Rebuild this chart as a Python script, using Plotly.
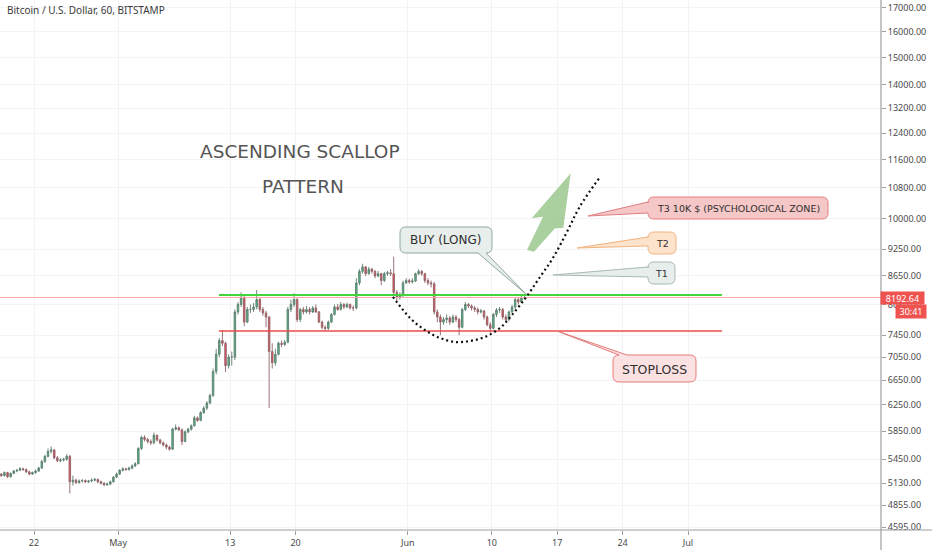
import plotly.graph_objects as go
import pandas as pd

W, H = 932, 550
MR, MB = 51, 20
PW, PH = W - MR, H - MB  # plot area 881 x 530

# ---------------- data (8-hour candles) ----------------
candle_start = "2019-04-18 04:00"
first_open = 5240
closes = [
    5250, 5230, 5270,  5215, 5260, 5290,  5300, 5320, 5310,  5280, 5250, 5270,
    5290, 5330, 5420,  5490, 5560, 5580,  5470, 5430, 5440,  5450, 5490, 5150,
    5170, 5140, 5160,  5165, 5150, 5160,  5170, 5180, 5150,  5130, 5110, 5120,
    5150, 5210, 5250,  5300, 5320, 5310,  5330, 5360, 5390,  5600, 5760, 5730,
    5700, 5680, 5790,  5720, 5680, 5650,  5620, 5590, 5880,  5900, 5870, 5700,
    5840, 5880, 5930,  6050, 6010, 6130,  6200, 6280, 6400,  6800, 7100, 7350,
    7300, 6900, 7050,  7050, 7900, 8050,  8200, 7700, 7950,  7950, 8000, 8150,
    7950, 7880, 7800,  7150, 6950, 7100,  7300, 7280, 7320,  7950, 8050, 8150,
    7750, 7950, 7900,  7950, 7900, 7980,  7900, 7700, 7600,  7580, 7700, 7850,
    8000, 7950, 8050,  8000, 8050, 7980,  7980, 8500, 8750,  8850, 8700, 8800,
    8750, 8650, 8700,  8550, 8700, 8720,  8700, 8300, 8200,  8250, 8500, 8550,
    8520, 8540, 8700,  8750, 8700, 8550,  8500, 8480, 7900,  7800, 7700, 7750,
    7780, 7700, 7800,  7750, 7600, 7950,  8050, 8020, 7980,  7950, 7900, 7920,
    7800, 7650, 7580,  7850, 7940, 7950,  7800, 7750, 7900,  8000, 8150, 8100,
    8180, 8192.64,
]
highs = [
    5270, 5265, 5285,  5280, 5270, 5305,  5320, 5345, 5335,  5325, 5295, 5285,
    5310, 5350, 5440,  5510, 5600, 5630,  5590, 5495, 5465,  5470, 5520, 5510,
    5230, 5190, 5180,  5185, 5180, 5175,  5195, 5200, 5190,  5165, 5145, 5140,
    5165, 5225, 5270,  5315, 5340, 5335,  5350, 5380, 5410,  5620, 5780, 5790,
    5750, 5730, 5830,  5800, 5740, 5700,  5670, 5640, 5900,  5950, 5920, 5890,
    5860, 5900, 5950,  6080, 6070, 6150,  6230, 6310, 6430,  6850, 7200, 7400,
    7550, 7330, 7100,  7150, 7950, 8100,  8300, 8220, 8000,  8050, 8080, 8350,
    8200, 8000, 7920,  7820, 7300, 7200,  7330, 7350, 7360,  8000, 8150, 8280,
    8180, 7980, 8000,  8020, 8000, 8020,  8050, 7920, 7730,  7640, 7730, 7880,
    8050, 8060, 8100,  8080, 8090, 8070,  8030, 8600, 8800,  8920, 8870, 8850,
    8830, 8780, 8760,  8720, 8740, 8760,  8800, 9080, 8350,  8300, 8550, 8600,
    8590, 8600, 8720,  8800, 8780, 8720,  8600, 8550, 8520,  7950, 7850, 7800,
    7850, 7820, 7850,  7840, 7780, 7980,  8100, 8080, 8050,  8020, 7990, 7960,
    7940, 7830, 7700,  7880, 7980, 8000,  7980, 7850, 7930,  8040, 8180, 8200,
    8240, 8250,
]
lows = [
    5225, 5215, 5220,  5200, 5205, 5250,  5275, 5290, 5295,  5265, 5235, 5240,
    5255, 5280, 5320,  5400, 5475, 5530,  5450, 5410, 5410,  5420, 5430, 5000,
    5100, 5120, 5125,  5140, 5135, 5135,  5145, 5155, 5130,  5115, 5095, 5100,
    5105, 5140, 5200,  5240, 5285, 5295,  5300, 5315, 5345,  5380, 5580, 5700,
    5670, 5650, 5660,  5700, 5660, 5630,  5590, 5570, 5580,  5860, 5850, 5650,
    5690, 5820, 5860,  5920, 5990, 6000,  6110, 6170, 6260,  6380, 6750, 7050,
    7250, 6790, 6850,  6900, 7000, 7850,  8000, 7620, 7680,  7880, 7900, 7950,
    7900, 7820, 7600,  6200, 6850, 6900,  7080, 7230, 7250,  7300, 7900, 8000,
    7700, 7700, 7850,  7870, 7850, 7880,  7880, 7680, 7560,  7530, 7550, 7680,
    7830, 7920, 7930,  7960, 7980, 7950,  7920, 7950, 8450,  8700, 8650, 8680,
    8700, 8600, 8620,  8450, 8520, 8650,  8650, 8250, 8100,  8150, 8200, 8480,
    8480, 8490, 8520,  8670, 8650, 8500,  8450, 8400, 7850,  7700, 7450, 7650,
    7680, 7650, 7680,  7700, 7450, 7580,  7920, 7980, 7930,  7900, 7850, 7870,
    7750, 7620, 7500,  7560, 7800, 7880,  7750, 7700, 7720,  7880, 7960, 8050,
    8080, 8150,
]
opens = [first_open] + closes[:-1]
times = pd.date_range(candle_start, periods=len(closes), freq="8h")

last_price = 8192.64
countdown = "30:41"

support_level = 8246
stop_level = 7531
level_start, level_end = "2019-05-11 19:00", "2019-07-04 15:00"

scallop_dates = ["2019-05-30 10:00", "2019-06-01 06:00", "2019-06-02 20:00",
                 "2019-06-04 11:00", "2019-06-06 01:30", "2019-06-07 16:00",
                 "2019-06-09 06:30", "2019-06-10 21:00", "2019-06-12 04:00",
                 "2019-06-13 18:30", "2019-06-15 04:00", "2019-06-16 13:00",
                 "2019-06-18 01:00", "2019-06-19 10:30", "2019-06-21 14:00"]
scallop_prices = [8205, 7781, 7549, 7398, 7324, 7343, 7418, 7587, 7841,
                  8225, 8630, 9051, 9664, 10309, 11100]

y_ticks = [4595, 4855, 5130, 5450, 5850, 6250, 6650, 7050, 7450, 8050, 8650,
           9250, 10000, 10800, 11600, 12400, 13200, 14000, 15000, 16000, 17000]
x_tick_dates = ["2019-04-22", "2019-05-01", "2019-05-13", "2019-05-20",
                "2019-06-01", "2019-06-10", "2019-06-17", "2019-06-24", "2019-07-01"]
x_tick_text = ["22", "May", "13", "20", "Jun", "10", "17", "24", "Jul"]

x_range = ["2019-04-18 08:40", "2019-07-21 15:45"]
y_range = [3.6590, 4.2390]

# ---------------- helpers (pixel -> paper) ----------------
def P(x, y):
    return f"{x / PW:.5f},{1 - y / PH:.5f}"

def callout_path(x0, y0, x1, y1, r, side, a, b, tip):
    s = f"M{P(x0 + r, y0)}"
    if side == "top":
        s += f" L{P(a, y0)} L{P(*tip)} L{P(b, y0)}"
    s += f" L{P(x1 - r, y0)} Q{P(x1, y0)} {P(x1, y0 + r)}"
    s += f" L{P(x1, y1 - r)} Q{P(x1, y1)} {P(x1 - r, y1)}"
    if side == "bottom":
        s += f" L{P(b, y1)} L{P(*tip)} L{P(a, y1)}"
    s += f" L{P(x0 + r, y1)} Q{P(x0, y1)} {P(x0, y1 - r)}"
    if side == "left":
        s += f" L{P(x0, b)} L{P(*tip)} L{P(x0, a)}"
    s += f" L{P(x0, y0 + r)} Q{P(x0, y0)} {P(x0 + r, y0)} Z"
    return s

fig = go.Figure()

fig.add_trace(go.Candlestick(
    x=times, open=opens, high=highs, low=lows, close=closes,
    increasing=dict(line=dict(color="#5e7d6e", width=0.9), fillcolor="#53b987"),
    decreasing=dict(line=dict(color="#8f6468", width=0.9), fillcolor="#eb4d5c"),
    showlegend=False, hoverinfo="skip",
))

# last price line
fig.add_trace(go.Scatter(x=x_range, y=[last_price, last_price], mode="lines",
                         line=dict(color="#f7a9a4", width=1), showlegend=False, hoverinfo="skip"))
# support / stop lines
fig.add_trace(go.Scatter(x=[level_start, level_end], y=[support_level, support_level], mode="lines",
                         line=dict(color="#45d33b", width=2), showlegend=False, hoverinfo="skip"))
fig.add_trace(go.Scatter(x=[level_start, level_end], y=[stop_level, stop_level], mode="lines",
                         line=dict(color="#ee4a4a", width=1.5), showlegend=False, hoverinfo="skip"))
# scallop curve
fig.add_trace(go.Scatter(x=scallop_dates, y=scallop_prices, mode="lines",
                         line=dict(color="#111111", width=2.2, dash="2px,3px", shape="spline"),
                         showlegend=False, hoverinfo="skip"))

shapes = []
# arrow
arrow = [(570.7, 173.3), (563.3, 228), (555, 228.3), (534, 251.7), (527, 250),
         (543, 216.7), (531.7, 218.3)]
path = "M" + " L".join(P(x, y) for x, y in arrow) + " Z"
shapes.append(dict(type="path", xref="paper", yref="paper", path=path,
                   fillcolor="rgba(150,196,135,0.8)", line=dict(width=0), layer="above"))

callouts = [
    # box, radius, side, a, b, tip, fill, border
    ((400, 227, 492, 253), 6, "bottom", 478, 486, (527, 295), "#e8eeeb", "#8ea99b"),
    ((648, 197, 828, 219), 6, "left", 202, 213, (588, 216), "#f5c7c7", "#e07f7f"),
    ((648, 232, 676, 254), 6, "left", 237, 246, (577, 248), "#fde3cc", "#f1b37f"),
    ((648, 262, 675, 284), 6, "left", 267, 277, (553, 275), "#e8eeec", "#a9bab2"),
    ((613, 355, 696, 382), 6, "top", 619, 627, (557, 331), "#fbe1e1", "#e47c7c"),
]
for (x0, y0, x1, y1), r, side, a, b, tip, fill, border in callouts:
    shapes.append(dict(type="path", xref="paper", yref="paper",
                       path=callout_path(x0, y0, x1, y1, r, side, a, b, tip),
                       fillcolor=fill, line=dict(color=border, width=1), layer="above"))

# axis lines
shapes.append(dict(type="line", xref="paper", yref="paper", x0=0, x1=W / PW, y0=0, y1=0,
                   line=dict(color="#9e9e9e", width=1.2), layer="above"))
shapes.append(dict(type="line", xref="paper", yref="paper", x0=1, x1=1, y0=1, y1=-MB / PH,
                   line=dict(color="#9e9e9e", width=1.2), layer="above"))

def A(text, x, y, size, color="#333333", family="DejaVu Sans", xanchor="center", **kw):
    return dict(text=text, xref="paper", yref="paper", x=x / PW, y=1 - y / PH,
                xanchor=xanchor, yanchor="middle", showarrow=False,
                font=dict(family=family, size=size, color=color), **kw)

annotations = [
    A("Bitcoin / U.S. Dollar, 60, BITSTAMP", 5, 10, 10, "#3a3a3a", "Noto Sans", "left"),
    A("ASCENDING SCALLOP", 300, 152, 18.5, "#555555"),
    A("PATTERN", 303, 186.5, 18.5, "#555555"),
    A("BUY (LONG)", 446, 240, 12, "#2f2f2f"),
    A("T3 10K $ (PSYCHOLOGICAL ZONE)", 738, 208, 9.5, "#2f2f2f"),
    A("T2", 662, 243, 9.5, "#2f2f2f"),
    A("T1", 661.5, 273, 9.5, "#2f2f2f"),
    A("STOPLOSS", 654.5, 369, 12.5, "#2f2f2f"),
    A(f"{last_price:.2f}", 902.5, 298, 9, "#ffffff", "Noto Sans",
      bgcolor="#ef5350", width=43, height=12, borderpad=0),
    A(countdown, 911, 311, 9, "#ffffff", "Noto Sans",
      bgcolor="#ef5350", width=30, height=13, borderpad=0),
]

fig.update_layout(
    width=W, height=H,
    margin=dict(l=0, r=MR, t=0, b=MB, pad=0),
    paper_bgcolor="white", plot_bgcolor="white",
    shapes=shapes, annotations=annotations,
    showlegend=False,
    xaxis=dict(
        type="date", range=x_range, rangeslider=dict(visible=False),
        tickvals=x_tick_dates, ticktext=x_tick_text,
        ticks="outside", ticklen=4, tickcolor="#9e9e9e",
        showgrid=True, gridcolor="#f2f2f4", zeroline=False, showline=False,
        tickfont=dict(family="Noto Sans", size=9, color="#4a4a4a"),
        automargin=False, fixedrange=True,
    ),
    yaxis=dict(
        type="log", range=y_range, side="right",
        tickvals=y_ticks, ticktext=[f"{v:.2f}" for v in y_ticks],
        ticks="outside", ticklen=4, tickcolor="#9e9e9e",
        showgrid=True, gridcolor="#f4f4f6", zeroline=False, showline=False,
        tickfont=dict(family="Noto Sans", size=9, color="#4a4a4a"),
        automargin=False, fixedrange=True,
    ),
)

fig.write_html("out.html", config={"displayModeBar": False},
               post_script="document.body.style.margin='0px';document.body.style.overflow='hidden';")
